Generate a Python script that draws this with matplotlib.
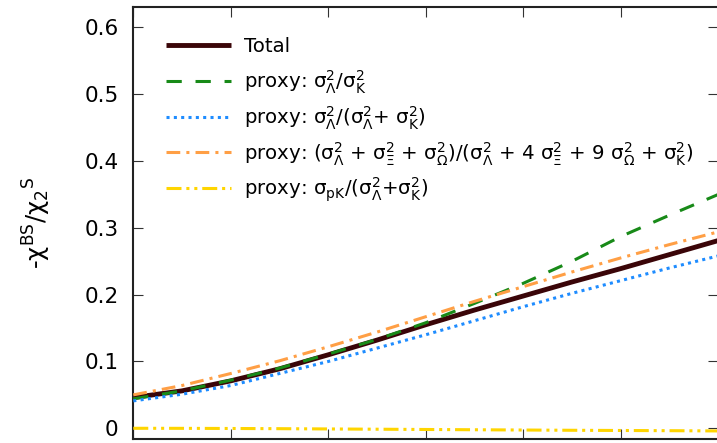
import matplotlib
matplotlib.use("Agg")
import matplotlib.pyplot as plt
from matplotlib.lines import Line2D

plt.rcParams['font.family'] = ['DejaVu Sans']
plt.rcParams['mathtext.fontset'] = 'custom'
plt.rcParams['mathtext.rm'] = 'DejaVu Sans'
plt.rcParams['mathtext.it'] = 'DejaVu Sans'
plt.rcParams['mathtext.sf'] = 'DejaVu Sans'
plt.rcParams['mathtext.bf'] = 'DejaVu Sans:bold'
plt.rcParams['mathtext.default'] = 'regular'

# ---- data ----
x = [0.0, 0.25, 0.5, 0.75, 1.0, 1.25, 1.5, 1.75, 2.0, 2.25, 2.5, 2.75, 3.0]
total = [0.046, 0.056, 0.071, 0.089, 0.110, 0.132, 0.155, 0.177, 0.198, 0.219, 0.239, 0.260, 0.281]
proxy_LK = [0.044, 0.056, 0.072, 0.090, 0.111, 0.133, 0.158, 0.187, 0.217, 0.250, 0.287, 0.319, 0.350]
proxy_LLK = [0.041, 0.051, 0.064, 0.082, 0.100, 0.120, 0.140, 0.161, 0.182, 0.202, 0.221, 0.240, 0.258]
proxy_hyp = [0.050, 0.064, 0.082, 0.101, 0.122, 0.144, 0.167, 0.190, 0.212, 0.234, 0.255, 0.275, 0.294]
proxy_pK = [0.0, -0.0001, -0.0003, -0.0006, -0.001, -0.0014, -0.0018, -0.0022, -0.0026, -0.003, -0.0033, -0.0036, -0.004]

labels = [
    'Total',
    r'proxy: $\sigma^2_\Lambda$/$\sigma^2_K$',
    r'proxy: $\sigma^2_\Lambda$/($\sigma^2_\Lambda$+ $\sigma^2_K$)',
    r'proxy: ($\sigma^2_\Lambda$ + $\sigma^2_\Xi$ + $\sigma^2_\Omega$)/($\sigma^2_\Lambda$ + 4 $\sigma^2_\Xi$ + 9 $\sigma^2_\Omega$ + $\sigma^2_K$)',
    r'proxy: $\sigma_{pK}$/($\sigma^2_\Lambda$+$\sigma^2_K$)',
]
yticks = [0, 0.1, 0.2, 0.3, 0.4, 0.5, 0.6]
ytick_labels = ['0', '0.1', '0.2', '0.3', '0.4', '0.5', '0.6']
xticks = [0, 0.5, 1.0, 1.5, 2.0, 2.5, 3.0]

# ---- styles ----
styles = [
    dict(color='#3a0508', lw=3.5, ls='-'),
    dict(color='#188a18', lw=2.2, ls=(0, (5.0, 4.5))),
    dict(color='#1e8cff', lw=2.2, ls=(0, (1.0, 1.4))),
    dict(color='#ff9f45', lw=2.2, ls=(0, (4.5, 2.0, 1.0, 2.0))),
    dict(color='#ffd500', lw=2.2, ls=(0, (4.9, 1.6, 1.0, 1.6, 1.0, 1.6))),
]
series = [total, proxy_LK, proxy_LLK, proxy_hyp, proxy_pK]

W, H = 717, 443
fig = plt.figure(figsize=(W / 100, H / 100), dpi=100)
left_px, right_px, top_px, bot_px = 133.3, 718.3, 6.7, 439.3
ax = fig.add_axes([left_px / W, 1 - bot_px / H, (right_px - left_px) / W, (bot_px - top_px) / H])

for i in range(5):
    st = styles[i]
    ax.plot(x, series[i], color=st['color'], lw=st['lw'], linestyle=st['ls'],
            dash_capstyle='butt', solid_capstyle='butt', zorder=2 + i)

ax.set_xlim(0, 3)
ax.set_ylim(-0.0165, 0.631)
ax.set_xticks(xticks)
ax.set_xticklabels([''] * len(xticks))
ax.set_yticks(yticks)
ax.set_yticklabels(ytick_labels)
ax.tick_params(direction='in', length=7, width=0.8, color='#333333',
               top=True, right=True, labelsize=15.5, pad=10.5)
for s in ax.spines.values():
    s.set_linewidth(1.5)
    s.set_color('#222222')

ax.set_ylabel(r'-$\chi^{BS}$/${\chi_2}^{S}$', fontsize=17.5)
ax.yaxis.set_label_coords(-(left_px - 53) / (right_px - left_px), 0.5)

# ---- manual legend ----
axw = right_px - left_px
axh = bot_px - top_px
line_y = [45.0, 80.7, 116.7, 152.3, 187.7]
for i in range(5):
    st = styles[i]
    yf = (bot_px - line_y[i]) / axh
    yb = (bot_px - (line_y[i] + 7.5)) / axh
    ax.add_line(Line2D([(165.7 - left_px) / axw, (231.0 - left_px) / axw], [yf, yf],
                       transform=ax.transAxes, color=st['color'], lw=st['lw'],
                       linestyle=st['ls'], dash_capstyle='butt', solid_capstyle='butt'))
    ax.text((244.0 - left_px) / axw, yb, labels[i], transform=ax.transAxes,
            fontsize=14.2, va='baseline', ha='left')

fig.savefig('out.png', dpi=100)
